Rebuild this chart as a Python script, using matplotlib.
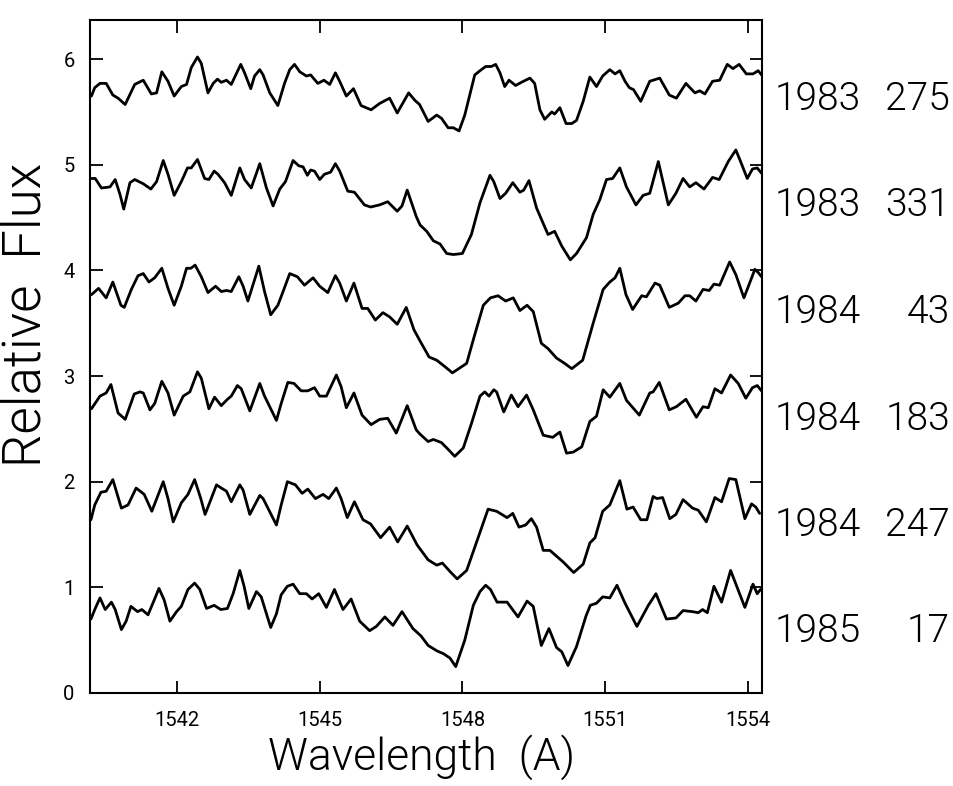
import matplotlib
matplotlib.use('Agg')
import matplotlib.pyplot as plt

# ---------------- data (wavelength in Angstrom, relative flux) ----------------
wl1 = [1540.20, 1540.27, 1540.38, 1540.51, 1540.65, 1540.76, 1540.91, 1541.11, 1541.29, 1541.46,
       1541.57, 1541.68, 1541.81, 1541.94, 1542.09, 1542.20, 1542.30, 1542.43, 1542.51, 1542.65,
       1542.76, 1542.85, 1542.93, 1543.04, 1543.14, 1543.34, 1543.42, 1543.55, 1543.63, 1543.74,
       1543.81, 1543.95, 1544.12, 1544.26, 1544.37, 1544.47, 1544.58, 1544.72, 1544.81, 1544.96,
       1545.09, 1545.21, 1545.33, 1545.42, 1545.56, 1545.71, 1545.87, 1546.08, 1546.26, 1546.47,
       1546.63, 1546.87, 1547.00, 1547.10,
       1547.28, 1547.46, 1547.56, 1547.70, 1547.81, 1547.93, 1548.05, 1548.26, 1548.37, 1548.49,
       1548.61, 1548.70, 1548.79, 1548.89, 1548.98, 1549.12, 1549.24, 1549.42, 1549.52, 1549.63,
       1549.73, 1549.88, 1549.94, 1550.05, 1550.18, 1550.30, 1550.40, 1550.54, 1550.68, 1550.82,
       1550.95, 1551.10, 1551.21, 1551.31, 1551.42, 1551.51, 1551.60, 1551.75, 1551.94, 1552.15,
       1552.35, 1552.50, 1552.70, 1552.89, 1552.99, 1553.10, 1553.26, 1553.41, 1553.57, 1553.69,
       1553.82, 1553.97, 1554.11, 1554.22, 1554.29]
fx1 = [5.65, 5.73, 5.77, 5.77, 5.66, 5.63, 5.57, 5.76, 5.80, 5.67,
       5.68, 5.88, 5.79, 5.65, 5.74, 5.76, 5.92, 6.02, 5.96, 5.68,
       5.77, 5.81, 5.78, 5.80, 5.76, 5.95, 5.87, 5.72, 5.84, 5.90,
       5.85, 5.68, 5.56, 5.77, 5.90, 5.95, 5.88, 5.84, 5.85, 5.77,
       5.80, 5.76, 5.87, 5.79, 5.65, 5.72, 5.56, 5.52, 5.58, 5.63,
       5.49, 5.68, 5.61, 5.57,
       5.41, 5.47, 5.44, 5.35, 5.35, 5.32, 5.47, 5.85, 5.89, 5.93,
       5.93, 5.95, 5.87, 5.74, 5.80, 5.75, 5.78, 5.82, 5.77, 5.52,
       5.43, 5.50, 5.48, 5.54, 5.39, 5.39, 5.42, 5.60, 5.83, 5.74,
       5.84, 5.90, 5.86, 5.89, 5.79, 5.73, 5.71, 5.60, 5.79, 5.82,
       5.66, 5.63, 5.77, 5.68, 5.70, 5.67, 5.79, 5.80, 5.95, 5.91,
       5.95, 5.86, 5.86, 5.89, 5.85]

wl2 = [1540.20, 1540.28, 1540.41, 1540.59, 1540.70, 1540.80, 1540.88, 1541.01, 1541.11, 1541.29,
       1541.45, 1541.57, 1541.71, 1541.81, 1541.94, 1542.09, 1542.22, 1542.30, 1542.43, 1542.58,
       1542.67, 1542.78, 1542.86, 1543.00, 1543.14, 1543.32, 1543.42, 1543.56, 1543.74, 1543.88,
       1544.02, 1544.16, 1544.28, 1544.44, 1544.56, 1544.65, 1544.74, 1544.81, 1544.89, 1545.00,
       1545.10, 1545.23, 1545.33, 1545.42, 1545.59, 1545.73, 1545.94, 1546.07, 1546.26, 1546.43,
       1546.63, 1546.73, 1546.84, 1547.03,
       1547.11, 1547.25, 1547.39, 1547.53, 1547.67, 1547.81, 1548.00, 1548.19, 1548.37, 1548.58,
       1548.66, 1548.79, 1548.91, 1549.06, 1549.21, 1549.29, 1549.40, 1549.56, 1549.80, 1549.94,
       1550.09, 1550.27, 1550.40, 1550.61, 1550.75, 1550.89, 1551.03, 1551.16, 1551.31, 1551.45,
       1551.65, 1551.80, 1551.94, 1552.12, 1552.33, 1552.49, 1552.64, 1552.78, 1552.91, 1553.08,
       1553.26, 1553.40, 1553.59, 1553.75, 1553.85, 1553.99, 1554.10, 1554.20, 1554.29]
fx2 = [4.87, 4.87, 4.78, 4.79, 4.86, 4.72, 4.58, 4.83, 4.86, 4.82,
       4.77, 4.84, 5.04, 4.91, 4.71, 4.84, 4.97, 4.97, 5.05, 4.87,
       4.86, 4.94, 4.91, 4.83, 4.71, 4.97, 4.86, 4.78, 5.01, 4.78,
       4.61, 4.77, 4.84, 5.04, 4.99, 4.98, 4.90, 4.95, 4.94, 4.86,
       4.91, 4.93, 5.01, 4.94, 4.75, 4.74, 4.62, 4.60, 4.62, 4.65,
       4.56, 4.61, 4.76, 4.51,
       4.43, 4.37, 4.28, 4.25, 4.16, 4.15, 4.16, 4.34, 4.64, 4.90,
       4.84, 4.68, 4.73, 4.83, 4.74, 4.76, 4.85, 4.59, 4.34, 4.37,
       4.23, 4.10, 4.16, 4.31, 4.53, 4.67, 4.86, 4.87, 4.97, 4.79,
       4.62, 4.71, 4.73, 5.03, 4.62, 4.73, 4.87, 4.79, 4.83, 4.77,
       4.88, 4.86, 5.03, 5.14, 5.03, 4.87, 4.96, 4.97, 4.92]

wl3 = [1540.20, 1540.35, 1540.51, 1540.65, 1540.82, 1540.89, 1541.04, 1541.18, 1541.29, 1541.41,
       1541.53, 1541.68, 1541.81, 1541.94, 1542.09, 1542.20, 1542.29, 1542.38, 1542.51, 1542.65,
       1542.81, 1542.93, 1543.04, 1543.14, 1543.30, 1543.39, 1543.49, 1543.72, 1543.84, 1543.97,
       1544.12, 1544.23, 1544.37, 1544.53, 1544.68, 1544.86, 1545.00, 1545.17, 1545.33, 1545.42,
       1545.56, 1545.72, 1545.89, 1546.01, 1546.17, 1546.33, 1546.47, 1546.63, 1546.82, 1546.98,
       1547.10,
       1547.30, 1547.46, 1547.63, 1547.79, 1548.09, 1548.24, 1548.44, 1548.59, 1548.75, 1548.91,
       1549.07, 1549.21, 1549.36, 1549.49, 1549.66, 1549.80, 1549.98, 1550.15, 1550.30, 1550.53,
       1550.75, 1550.96, 1551.10, 1551.21, 1551.31, 1551.44, 1551.58, 1551.77, 1551.87, 1552.05,
       1552.15, 1552.35, 1552.54, 1552.68, 1552.78, 1552.91, 1553.06, 1553.19, 1553.29, 1553.41,
       1553.62, 1553.75, 1553.92, 1554.04, 1554.15, 1554.22, 1554.29]
fx3 = [3.77, 3.83, 3.74, 3.89, 3.67, 3.65, 3.82, 3.95, 3.97, 3.89,
       3.93, 4.02, 3.83, 3.67, 3.85, 4.02, 4.02, 4.05, 3.94, 3.79,
       3.85, 3.80, 3.81, 3.80, 3.94, 3.85, 3.71, 4.04, 3.80, 3.58,
       3.67, 3.80, 3.97, 3.94, 3.86, 3.93, 3.85, 3.79, 3.95, 3.88,
       3.71, 3.88, 3.64, 3.64, 3.53, 3.60, 3.56, 3.49, 3.65, 3.44,
       3.34,
       3.18, 3.15, 3.09, 3.03, 3.12, 3.36, 3.67, 3.74, 3.76, 3.71,
       3.74, 3.62, 3.67, 3.61, 3.31, 3.26, 3.17, 3.12, 3.07, 3.15,
       3.50, 3.82, 3.89, 3.93, 4.02, 3.77, 3.63, 3.76, 3.75, 3.88,
       3.86, 3.65, 3.69, 3.76, 3.76, 3.71, 3.82, 3.81, 3.87, 3.86,
       4.08, 3.96, 3.74, 3.88, 4.01, 3.98, 3.94]

wl4 = [1540.20, 1540.38, 1540.51, 1540.61, 1540.76, 1540.91, 1541.10, 1541.22, 1541.29, 1541.43,
       1541.53, 1541.68, 1541.81, 1541.94, 1542.13, 1542.27, 1542.43, 1542.51, 1542.67, 1542.79,
       1542.93, 1543.06, 1543.14, 1543.27, 1543.35, 1543.53, 1543.74, 1543.84, 1544.09, 1544.19,
       1544.33, 1544.46, 1544.61, 1544.75, 1544.89, 1545.00, 1545.14, 1545.35, 1545.45, 1545.56,
       1545.72, 1545.89, 1546.08, 1546.26, 1546.43, 1546.61, 1546.84, 1547.03,
       1547.11, 1547.28, 1547.39, 1547.56, 1547.67, 1547.84, 1548.02, 1548.19, 1548.37, 1548.47,
       1548.56, 1548.66, 1548.72, 1548.87, 1549.03, 1549.17, 1549.35, 1549.49, 1549.70, 1549.90,
       1550.05, 1550.19, 1550.33, 1550.51, 1550.68, 1550.82, 1550.96, 1551.10, 1551.31, 1551.45,
       1551.72, 1551.94, 1552.01, 1552.14, 1552.35, 1552.50, 1552.70, 1552.92, 1553.06, 1553.17,
       1553.31, 1553.45, 1553.64, 1553.80, 1553.96, 1554.10, 1554.20, 1554.29]
fx4 = [2.69, 2.81, 2.84, 2.92, 2.65, 2.59, 2.83, 2.85, 2.84, 2.68,
       2.74, 2.95, 2.84, 2.63, 2.81, 2.85, 3.04, 2.98, 2.69, 2.80,
       2.72, 2.78, 2.81, 2.91, 2.88, 2.67, 2.93, 2.81, 2.58, 2.74,
       2.94, 2.93, 2.86, 2.86, 2.89, 2.81, 2.81, 3.01, 2.90, 2.70,
       2.84, 2.63, 2.54, 2.59, 2.60, 2.46, 2.72, 2.49,
       2.45, 2.38, 2.40, 2.37, 2.32, 2.24, 2.32, 2.55, 2.81, 2.85,
       2.81, 2.87, 2.85, 2.66, 2.82, 2.71, 2.82, 2.68, 2.44, 2.42,
       2.47, 2.27, 2.28, 2.33, 2.57, 2.62, 2.87, 2.80, 2.93, 2.77,
       2.63, 2.84, 2.85, 2.94, 2.68, 2.71, 2.78, 2.61, 2.71, 2.70,
       2.88, 2.84, 3.01, 2.93, 2.79, 2.89, 2.91, 2.86]

wl5 = [1540.19, 1540.27, 1540.40, 1540.51, 1540.65, 1540.83, 1540.97, 1541.14, 1541.31, 1541.47,
       1541.71, 1541.81, 1541.92, 1542.09, 1542.23, 1542.37, 1542.50, 1542.59, 1542.83, 1542.93,
       1543.04, 1543.14, 1543.32, 1543.39, 1543.53, 1543.74, 1543.81, 1544.09, 1544.19, 1544.32,
       1544.49, 1544.63, 1544.75, 1544.91, 1545.07, 1545.19, 1545.35, 1545.45, 1545.58, 1545.73,
       1545.91, 1546.07, 1546.28, 1546.47, 1546.64, 1546.84, 1547.05,
       1547.28, 1547.46, 1547.58, 1547.74, 1547.89, 1548.09, 1548.30, 1548.54, 1548.72, 1548.94,
       1549.06, 1549.19, 1549.33, 1549.45, 1549.56, 1549.70, 1549.84, 1550.12, 1550.34, 1550.54,
       1550.68, 1550.79, 1550.95, 1551.10, 1551.31, 1551.46, 1551.59, 1551.75, 1551.88, 1552.01,
       1552.09, 1552.21, 1552.36, 1552.49, 1552.64, 1552.84, 1552.96, 1553.13, 1553.31, 1553.45,
       1553.61, 1553.75, 1553.94, 1554.08, 1554.17, 1554.25]
fx5 = [1.64, 1.78, 1.90, 1.91, 2.02, 1.75, 1.78, 1.94, 1.88, 1.72,
       2.00, 1.84, 1.62, 1.80, 1.88, 2.02, 1.84, 1.69, 1.97, 1.94,
       1.91, 1.81, 1.97, 1.92, 1.69, 1.87, 1.84, 1.59, 1.78, 2.00,
       1.97, 1.89, 1.93, 1.84, 1.88, 1.84, 1.94, 1.84, 1.66, 1.81,
       1.64, 1.60, 1.47, 1.57, 1.43, 1.58, 1.40,
       1.26, 1.21, 1.23, 1.15, 1.08, 1.16, 1.43, 1.74, 1.72, 1.66,
       1.70, 1.57, 1.59, 1.65, 1.57, 1.35, 1.35, 1.24, 1.14, 1.22,
       1.42, 1.47, 1.72, 1.78, 2.01, 1.74, 1.76, 1.64, 1.64, 1.86,
       1.84, 1.85, 1.65, 1.69, 1.83, 1.75, 1.73, 1.62, 1.85, 1.81,
       2.03, 2.02, 1.65, 1.79, 1.76, 1.70]

wl6 = [1540.19, 1540.27, 1540.38, 1540.49, 1540.62, 1540.70, 1540.83, 1540.93, 1541.03, 1541.17,
       1541.26, 1541.39, 1541.52, 1541.62, 1541.73, 1541.85, 1541.99, 1542.09, 1542.23, 1542.37,
       1542.48, 1542.62, 1542.78, 1542.92, 1543.06, 1543.18, 1543.32, 1543.41, 1543.51, 1543.67,
       1543.77, 1543.97, 1544.09, 1544.19, 1544.32, 1544.44, 1544.58, 1544.72, 1544.84, 1544.98,
       1545.14, 1545.31, 1545.49, 1545.66, 1545.84, 1546.05, 1546.19, 1546.37, 1546.54, 1546.73,
       1546.96, 1547.13,
       1547.28, 1547.46, 1547.61, 1547.74, 1547.86, 1548.05, 1548.23, 1548.37, 1548.49, 1548.59,
       1548.73, 1548.94, 1549.17, 1549.36, 1549.49, 1549.66, 1549.82, 1549.98, 1550.09, 1550.22,
       1550.40, 1550.60, 1550.69, 1550.82, 1550.95, 1551.10, 1551.25, 1551.42, 1551.67, 1551.91,
       1552.07, 1552.29, 1552.49, 1552.64, 1552.84, 1552.96, 1553.05, 1553.15, 1553.29, 1553.45,
       1553.64, 1553.94, 1554.11, 1554.20, 1554.27]
fx6 = [0.70, 0.79, 0.90, 0.79, 0.86, 0.79, 0.60, 0.68, 0.82, 0.77,
       0.79, 0.74, 0.88, 0.99, 0.88, 0.68, 0.77, 0.82, 0.98, 1.04,
       0.98, 0.80, 0.83, 0.79, 0.80, 0.94, 1.16, 1.01, 0.80, 0.96,
       0.91, 0.62, 0.75, 0.93, 1.01, 1.03, 0.94, 0.94, 0.89, 0.94,
       0.81, 0.98, 0.79, 0.89, 0.68, 0.59, 0.63, 0.72, 0.64, 0.77,
       0.61, 0.54,
       0.45, 0.40, 0.37, 0.33, 0.25, 0.50, 0.83, 0.96, 1.02, 0.98,
       0.86, 0.86, 0.72, 0.87, 0.82, 0.45, 0.61, 0.43, 0.39, 0.26,
       0.44, 0.73, 0.83, 0.85, 0.91, 0.90, 1.02, 0.85, 0.63, 0.83,
       0.94, 0.70, 0.71, 0.78, 0.77, 0.76, 0.79, 0.76, 1.01, 0.86,
       1.16, 0.81, 1.03, 0.94, 0.98]

years = ['1983', '1983', '1984', '1984', '1984', '1985']
days = ['275', '331', '43', '183', '247', '17']
label_levels = [5.62, 4.62, 3.60, 2.59, 1.59, 0.58]

x_ticks = [1542, 1545, 1548, 1551, 1554]
y_ticks = [0, 1, 2, 3, 4, 5, 6]

# ---------------- figure ----------------
plt.rcParams['font.family'] = ['Roboto', 'DejaVu Sans']
W, H = 954, 786
fig = plt.figure(figsize=(W / 100, H / 100), dpi=100)
ax = fig.add_axes([90 / W, 93 / H, 672 / W, 673 / H])

spectra = [(wl1, fx1), (wl2, fx2), (wl3, fx3), (wl4, fx4), (wl5, fx5), (wl6, fx6)]
for wl, fx in spectra:
    ax.plot(wl, fx, color='black', lw=2.0, solid_joinstyle='round', solid_capstyle='round')

ax.set_xlim(1540.17, 1554.30)
ax.set_ylim(0, 6.37)
ax.set_xticks(x_ticks)
ax.set_yticks(y_ticks)
ax.tick_params(which='major', direction='in', top=True, right=True, width=1.3,
               length=9, labelsize=14.5, labelcolor='black')
ax.tick_params(axis='x', which='major', pad=13)
ax.tick_params(axis='y', which='major', pad=11)
for s in ax.spines.values():
    s.set_linewidth(1.5)

for yr, dy, lv in zip(years, days, label_levels):
    ax.text(1.019, lv, yr, transform=ax.get_yaxis_transform(), ha='left', va='center',
            fontsize=28, fontweight=300, clip_on=False)
    ax.text(1.280, lv, dy, transform=ax.get_yaxis_transform(), ha='right', va='center',
            fontsize=28, fontweight=300, clip_on=False)

fig.text(422 / W, 1 - 757 / H, 'Wavelength  (A)', ha='center', va='center', fontsize=32,
         fontweight=300)
fig.text(27 / W, 1 - 315 / H, 'Relative  Flux', ha='center', va='center', rotation=90,
         fontsize=38, fontweight=300)

fig.savefig('out.png', dpi=100)
